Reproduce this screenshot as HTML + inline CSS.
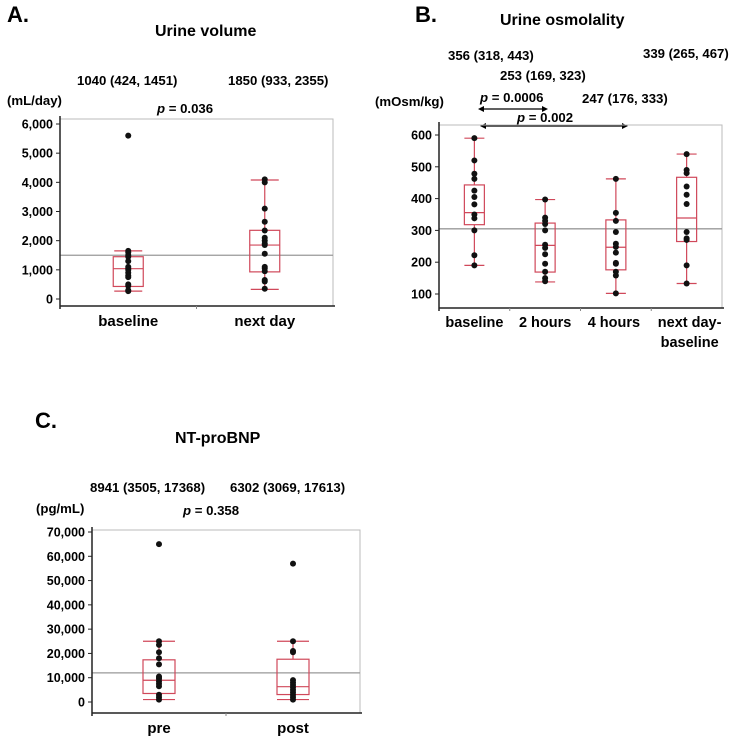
<!DOCTYPE html>
<html><head><meta charset="utf-8">
<style>
html,body{margin:0;padding:0;background:#fff;}
svg{display:block;font-family:"Liberation Sans",Arial,sans-serif;font-weight:bold;}
</style></head>
<body>
<svg id="chart" width="737" height="742" viewBox="0 0 737 742" xmlns="http://www.w3.org/2000/svg">
<text x="7" y="22" font-size="22">A.</text>
<text x="155" y="36" font-size="16">Urine volume</text>
<text x="77" y="85" font-size="13.2">1040 (424, 1451)</text>
<text x="228" y="85" font-size="13.2">1850 (933, 2355)</text>
<text x="7" y="105" font-size="13.2">(mL/day)</text>
<text x="157" y="113" font-size="13.2"><tspan font-style="italic">p</tspan> = 0.036</text>

<text x="415" y="22" font-size="22">B.</text>
<text x="500" y="25" font-size="16">Urine osmolality</text>
<text x="448" y="60" font-size="13.2">356 (318, 443)</text>
<text x="643" y="58" font-size="13.2">339 (265, 467)</text>
<text x="500" y="80" font-size="13.2">253 (169, 323)</text>
<text x="582" y="103" font-size="13.2">247 (176, 333)</text>
<text x="375" y="106" font-size="13.2">(mOsm/kg)</text>
<text x="480" y="102" font-size="13.2"><tspan font-style="italic">p</tspan> = 0.0006</text>
<text x="517" y="122" font-size="13.2"><tspan font-style="italic">p</tspan> = 0.002</text>
<g stroke="#000" stroke-width="1.3" fill="#000">
<line x1="480" y1="109" x2="546" y2="109"/><path d="M478 109 l6 -3 v6z M548 109 l-6 -3 v6z" stroke="none"/></g>
<g stroke="#000" stroke-width="1.3" fill="#000">
<line x1="482" y1="126" x2="626" y2="126"/><path d="M480 126 l6 -3 v6z M628 126 l-6 -3 v6z" stroke="none"/></g>

<text x="35" y="428" font-size="22">C.</text>
<text x="175" y="443" font-size="16">NT-proBNP</text>
<text x="90" y="492" font-size="13.2">8941 (3505, 17368)</text>
<text x="230" y="492" font-size="13.2">6302 (3069, 17613)</text>
<text x="36" y="513" font-size="13.2">(pg/mL)</text>
<text x="183" y="515" font-size="13.2"><tspan font-style="italic">p</tspan> = 0.358</text>
</svg>
<script>
// Panel A data
const aCats = ["baseline", "next day"];
const aWhiskerLo = [270, 330];
const aWhiskerHi = [1650, 4080];
const aQ1 = [430, 930];
const aQ3 = [1450, 2355];
const aMedian = [1040, 1850];
const aPoints0 = [5600,1650,1600,1500,1450,1300,1100,1050,1000,900,800,750,500,450,300,270];
const aPoints1 = [4100,4000,3100,2650,2350,2100,2000,1900,1850,1550,1100,1050,950,650,600,350];
const aTicks = [0,1000,2000,3000,4000,5000,6000];
const aTickLabels = ["0","1,000","2,000","3,000","4,000","5,000","6,000"];
const aRef = 1500;

// Panel B data
const bCats = ["baseline", "2 hours", "4 hours", "next day-|baseline"];
const bWhiskerLo = [190, 138, 102, 133];
const bWhiskerHi = [590, 397, 462, 540];
const bQ1 = [318, 169, 176, 265];
const bQ3 = [443, 323, 333, 467];
const bMedian = [356, 253, 247, 339];
const bPoints0 = [590,520,478,462,425,405,382,350,338,300,222,190];
const bPoints1 = [397,340,330,320,300,255,245,225,195,170,150,140];
const bPoints2 = [462,355,330,295,258,248,230,198,195,170,158,102];
const bPoints3 = [540,490,480,438,412,383,295,275,270,190,133];
const bTicks = [100,200,300,400,500,600];
const bTickLabels = ["100","200","300","400","500","600"];
const bRef = 305;

// Panel C data
const cCats = ["pre", "post"];
const cWhiskerLo = [1000, 1000];
const cWhiskerHi = [25000, 25000];
const cQ1 = [3505, 3069];
const cQ3 = [17368, 17613];
const cMedian = [8941, 6302];
const cPoints0 = [65000,25000,23500,20500,18000,15500,10500,10000,9500,8500,7500,6500,3000,2000,1000];
const cPoints1 = [57000,25000,21000,20500,9000,8000,7000,6000,5000,4000,3000,2000,1000];
const cTicks = [0,10000,20000,30000,40000,50000,60000,70000];
const cTickLabels = ["0","10,000","20,000","30,000","40,000","50,000","60,000","70,000"];
const cRef = 12000;

const NS = "http://www.w3.org/2000/svg";
const svg = document.getElementById("chart");
const RED = "#d0485a";
function mk(tag, attrs, parent) {
  const e = document.createElementNS(NS, tag);
  for (const k in attrs) e.setAttribute(k, attrs[k]);
  (parent || svg).appendChild(e);
  return e;
}

function panel(cfg) {
  const g = mk("g", {});
  
  
  const y = v => cfg.y0 + (v - cfg.v0) * (cfg.y1 - cfg.y0) / (cfg.v1 - cfg.v0);
  const n = cfg.cats.length;
  const x = i => cfg.left + (cfg.right - cfg.left) * (i + 0.5) / n;
  const fr = mk("rect", {x: cfg.left, y: cfg.top, width: cfg.right - cfg.left, height: cfg.bottom - cfg.top, fill: "none", stroke: "#bbb", "stroke-width": 1}, g);
  
  
  const rl = mk("line", {x1: cfg.left, x2: cfg.right, y1: y(cfg.ref), y2: y(cfg.ref), stroke: "#999", "stroke-width": 1.3}, g);
  
  
  const ya = mk("line", {x1: cfg.left, x2: cfg.left, y1: cfg.top - 3, y2: cfg.bottom + 3, stroke: "#222", "stroke-width": 1.5}, g);
  
  
  const xa = mk("line", {x1: cfg.left, x2: cfg.right + 2, y1: cfg.bottom, y2: cfg.bottom, stroke: "#222", "stroke-width": 1.5}, g);
  
  
  for (let i = 1; i < n; i++) {
    const xt = cfg.left + (cfg.right - cfg.left) * i / n;
    mk("line", {x1: xt, x2: xt, y1: cfg.bottom, y2: cfg.bottom + 3, stroke: "#888"}, g);
  }
  cfg.ticks.forEach((t, i) => {
    mk("line", {x1: cfg.left - 4, x2: cfg.left, y1: y(t), y2: y(t), stroke: "#222"}, g);
    const tl = mk("text", {x: cfg.left - 7, y: y(t) + 4.5, "font-size": 12.5, "text-anchor": "end"}, g);
    tl.textContent = cfg.tickLabels[i];
    
    
  });
  cfg.cats.forEach((c, i) => {
    const cx = x(i);
    const lines = c.split("|");
    lines.forEach((ln, j) => {
      const t = mk("text", {x: cx + (cfg.labelDx ? cfg.labelDx[i] : 0), y: cfg.labelY + j * 20, "font-size": cfg.labelSize, "text-anchor": "middle"}, g);
      t.textContent = ln;
      
      
    });
    const bg = mk("g", {stroke: RED, "stroke-width": 1.2, fill: "none"}, g);
    
    
    const bw = cfg.boxW, cw = cfg.capW;
    mk("line", {x1: cx, x2: cx, y1: y(cfg.wlo[i]), y2: y(cfg.q1[i])}, bg);
    mk("line", {x1: cx, x2: cx, y1: y(cfg.q3[i]), y2: y(cfg.whi[i])}, bg);
    mk("line", {x1: cx - cw, x2: cx + cw, y1: y(cfg.wlo[i]), y2: y(cfg.wlo[i])}, bg);
    mk("line", {x1: cx - cw, x2: cx + cw, y1: y(cfg.whi[i]), y2: y(cfg.whi[i])}, bg);
    mk("rect", {x: cx - bw, y: y(cfg.q3[i]), width: 2 * bw, height: y(cfg.q1[i]) - y(cfg.q3[i])}, bg);
    mk("line", {x1: cx - bw, x2: cx + bw, y1: y(cfg.med[i]), y2: y(cfg.med[i])}, bg);
    cfg.points[i].forEach(v => {
      const p = mk("circle", {cx: cx, cy: y(v), r: 3, fill: "#111"}, g);
      
      
    });
  });
}

panel({name: "urine-volume-chart", left: 60, right: 333, top: 119, bottom: 306, y0: 299, y1: 124, v0: 0, v1: 6000,
  cats: aCats, wlo: aWhiskerLo, whi: aWhiskerHi, q1: aQ1, q3: aQ3, med: aMedian, points: [aPoints0, aPoints1],
  ticks: aTicks, tickLabels: aTickLabels, ref: aRef, boxW: 15, capW: 14, labelY: 326, labelSize: 15});

panel({name: "urine-osmolality-chart", left: 439, right: 722, top: 125, bottom: 308, y0: 294, y1: 135, v0: 100, v1: 600,
  cats: bCats, wlo: bWhiskerLo, whi: bWhiskerHi, q1: bQ1, q3: bQ3, med: bMedian, points: [bPoints0, bPoints1, bPoints2, bPoints3],
  ticks: bTicks, tickLabels: bTickLabels, ref: bRef, boxW: 10, capW: 10, labelY: 327, labelSize: 14.5, labelDx: [0, 0, -2, 3]});

panel({name: "nt-probnp-chart", left: 92, right: 360, top: 530, bottom: 713, y0: 702, y1: 532, v0: 0, v1: 70000,
  cats: cCats, wlo: cWhiskerLo, whi: cWhiskerHi, q1: cQ1, q3: cQ3, med: cMedian, points: [cPoints0, cPoints1],
  ticks: cTicks, tickLabels: cTickLabels, ref: cRef, boxW: 16, capW: 16, labelY: 733, labelSize: 15});
</script>
</body></html>
